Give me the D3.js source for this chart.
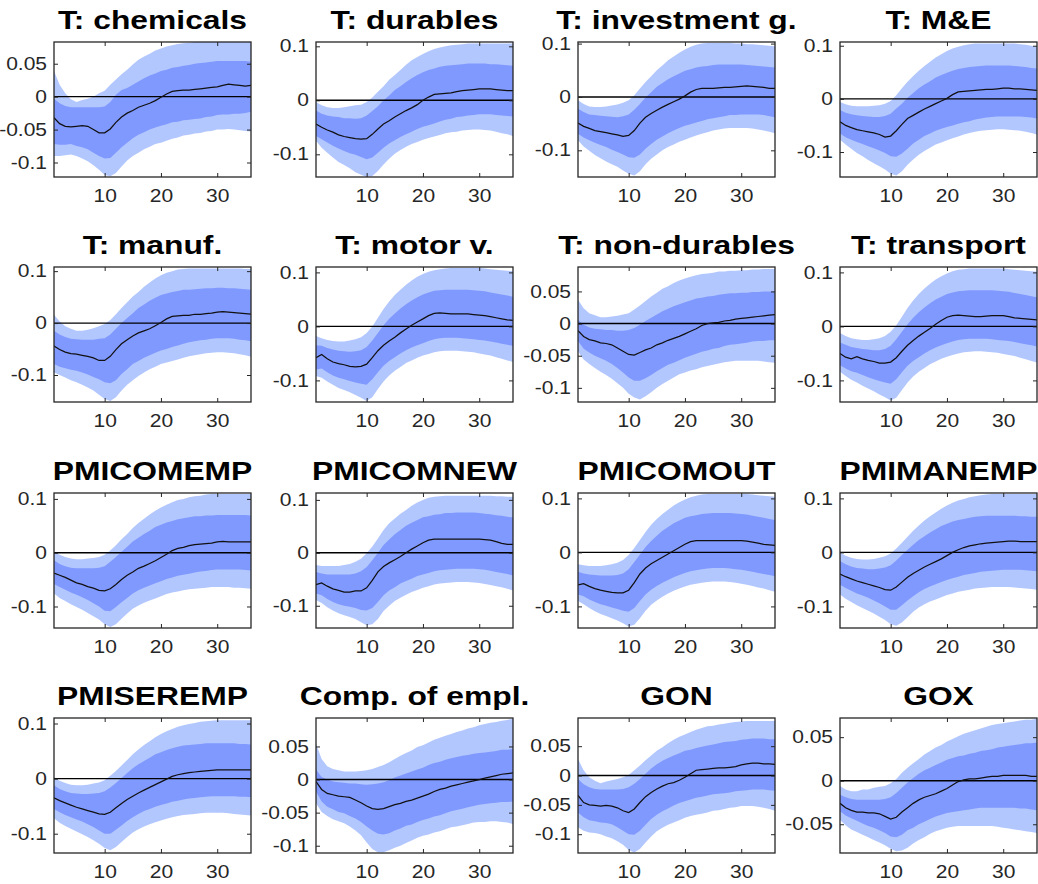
<!DOCTYPE html>
<html>
<head>
<meta charset="utf-8">
<script src="https://cdn.jsdelivr.net/npm/d3@7"></script>
<style>
  body { margin: 0; background: #fff; }
  svg { display: block; }
</style>
</head>
<body>
<svg id="chart" width="1038" height="884"></svg>
<script>
// Impulse responses: median with 68% and 90% credible bands, horizons 1..36
const horizons = [1,2,3,4,5,6,7,8,9,10,11,12,13,14,15,16,17,18,19,20,21,22,23,24,25,26,27,28,29,30,31,32,33,34,35,36];

const titles = ["T: chemicals","T: durables","T: investment g.","T: M&E",
                "T: manuf.","T: motor v.","T: non-durables","T: transport",
                "PMICOMEMP","PMICOMNEW","PMICOMOUT","PMIMANEMP",
                "PMISEREMP","Comp. of empl.","GON","GOX"];

const xTickValues = [10, 20, 30];
const xTickLabels = ["10", "20", "30"];

const ticksFine = [-0.1, -0.05, 0, 0.05];
const ticksFineLabels = ["-0.1", "-0.05", "0", "0.05"];
const ticksCoarse = [-0.1, 0, 0.1];
const ticksCoarseLabels = ["-0.1", "0", "0.1"];
const ticksGox = [-0.05, 0, 0.05];
const ticksGoxLabels = ["-0.05", "0", "0.05"];

const yDomains = [
  [-0.122, 0.083], [-0.142, 0.108], [-0.150, 0.103], [-0.147, 0.107],
  [-0.152, 0.108], [-0.140, 0.110], [-0.122, 0.088], [-0.140, 0.110],
  [-0.140, 0.111], [-0.142, 0.113], [-0.140, 0.110], [-0.140, 0.110],
  [-0.135, 0.110], [-0.111, 0.093], [-0.132, 0.098], [-0.083, 0.072]
];

// T: chemicals
const chem_hi90 = [0.039,0.018,0.005,-0.004,-0.008,-0.005,-0.003,0.000,0.005,0.009,0.018,0.026, 0.034,0.041,0.049,0.056,0.061,0.065,0.070,0.073,0.076,0.078,0.080,0.081, 0.082,0.083,0.083,0.083,0.083,0.083,0.083,0.083,0.083,0.083,0.083,0.083];
const chem_hi68 = [-0.003,-0.010,-0.014,-0.016,-0.016,-0.016,-0.016,-0.016,-0.016,-0.015,-0.008,0.003, 0.010,0.013,0.018,0.023,0.028,0.032,0.035,0.039,0.041,0.044,0.045,0.047, 0.048,0.050,0.051,0.052,0.053,0.054,0.054,0.054,0.054,0.054,0.054,0.053];
const chem_med  = [-0.032,-0.041,-0.045,-0.046,-0.045,-0.044,-0.045,-0.050,-0.055,-0.055,-0.049,-0.039, -0.031,-0.025,-0.021,-0.016,-0.013,-0.010,-0.006,-0.001,0.004,0.008,0.009,0.010, 0.010,0.011,0.012,0.013,0.014,0.015,0.017,0.019,0.018,0.017,0.016,0.017];
const chem_lo68 = [-0.072,-0.073,-0.073,-0.072,-0.075,-0.077,-0.080,-0.085,-0.090,-0.094,-0.093,-0.085, -0.077,-0.070,-0.063,-0.058,-0.054,-0.050,-0.047,-0.044,-0.042,-0.039,-0.038,-0.036, -0.035,-0.034,-0.033,-0.031,-0.030,-0.028,-0.027,-0.027,-0.026,-0.026,-0.025,-0.023];
const chem_lo90 = [-0.090,-0.090,-0.089,-0.088,-0.090,-0.094,-0.098,-0.104,-0.111,-0.119,-0.121,-0.116, -0.106,-0.097,-0.090,-0.085,-0.080,-0.076,-0.072,-0.070,-0.067,-0.064,-0.062,-0.059, -0.058,-0.056,-0.055,-0.053,-0.052,-0.050,-0.050,-0.049,-0.050,-0.051,-0.052,-0.053];

// T: durables
const dur_hi90 = [-0.003,-0.009,-0.013,-0.014,-0.014,-0.013,-0.011,-0.009,-0.008,-0.003,0.005,0.016, 0.026,0.038,0.047,0.056,0.066,0.074,0.080,0.086,0.091,0.095,0.098,0.100, 0.102,0.103,0.104,0.105,0.105,0.105,0.105,0.105,0.105,0.105,0.105,0.105];
const dur_hi68 = [-0.019,-0.025,-0.028,-0.030,-0.031,-0.033,-0.033,-0.034,-0.033,-0.028,-0.020,-0.011, 0.000,0.009,0.019,0.026,0.034,0.041,0.047,0.052,0.056,0.059,0.062,0.064, 0.065,0.066,0.067,0.068,0.068,0.068,0.068,0.067,0.067,0.066,0.065,0.064];
const dur_med  = [-0.044,-0.050,-0.055,-0.059,-0.064,-0.067,-0.069,-0.071,-0.072,-0.071,-0.063,-0.053, -0.044,-0.038,-0.031,-0.025,-0.019,-0.014,-0.008,0.000,0.006,0.011,0.012,0.013, 0.014,0.016,0.018,0.019,0.020,0.021,0.021,0.021,0.020,0.019,0.018,0.018];
const dur_lo68 = [-0.066,-0.072,-0.078,-0.084,-0.089,-0.094,-0.098,-0.101,-0.105,-0.109,-0.106,-0.097, -0.088,-0.080,-0.074,-0.068,-0.063,-0.058,-0.053,-0.049,-0.046,-0.043,-0.039,-0.036, -0.034,-0.031,-0.030,-0.028,-0.027,-0.026,-0.026,-0.026,-0.027,-0.028,-0.029,-0.030];
const dur_lo90 = [-0.075,-0.088,-0.097,-0.106,-0.114,-0.120,-0.126,-0.133,-0.138,-0.142,-0.140,-0.131, -0.119,-0.108,-0.099,-0.092,-0.086,-0.081,-0.077,-0.073,-0.070,-0.067,-0.064,-0.061, -0.059,-0.058,-0.056,-0.055,-0.054,-0.054,-0.055,-0.056,-0.058,-0.061,-0.063,-0.066];

// T: investment g.
const inv_hi90 = [-0.006,-0.013,-0.018,-0.019,-0.019,-0.018,-0.016,-0.014,-0.011,-0.006,0.003,0.016, 0.028,0.039,0.050,0.059,0.069,0.076,0.083,0.089,0.094,0.098,0.100,0.101, 0.101,0.101,0.101,0.101,0.100,0.100,0.099,0.099,0.098,0.097,0.096,0.095];
const inv_hi68 = [-0.022,-0.028,-0.033,-0.034,-0.035,-0.036,-0.037,-0.038,-0.036,-0.033,-0.024,-0.013, -0.001,0.009,0.019,0.026,0.033,0.039,0.044,0.049,0.052,0.055,0.057,0.058, 0.060,0.061,0.061,0.061,0.061,0.061,0.060,0.059,0.058,0.057,0.056,0.055];
const inv_med  = [-0.049,-0.055,-0.059,-0.063,-0.065,-0.067,-0.069,-0.071,-0.074,-0.072,-0.063,-0.049, -0.038,-0.031,-0.025,-0.019,-0.014,-0.009,-0.004,0.002,0.009,0.014,0.016,0.016, 0.016,0.017,0.018,0.018,0.019,0.020,0.021,0.020,0.019,0.018,0.016,0.016];
const inv_lo68 = [-0.069,-0.076,-0.081,-0.086,-0.090,-0.094,-0.099,-0.103,-0.108,-0.113,-0.114,-0.108, -0.097,-0.088,-0.080,-0.074,-0.068,-0.063,-0.058,-0.054,-0.051,-0.048,-0.045,-0.042, -0.040,-0.038,-0.036,-0.034,-0.034,-0.033,-0.033,-0.033,-0.033,-0.034,-0.036,-0.038];
const inv_lo90 = [-0.081,-0.093,-0.101,-0.109,-0.115,-0.121,-0.126,-0.131,-0.138,-0.144,-0.147,-0.139, -0.126,-0.116,-0.108,-0.100,-0.094,-0.089,-0.084,-0.080,-0.076,-0.072,-0.069,-0.066, -0.063,-0.061,-0.059,-0.058,-0.058,-0.058,-0.058,-0.059,-0.061,-0.063,-0.065,-0.068];

// T: M&E
const me_hi90 = [-0.006,-0.010,-0.013,-0.014,-0.014,-0.014,-0.013,-0.012,-0.009,-0.004,0.007,0.020, 0.032,0.043,0.053,0.062,0.070,0.078,0.084,0.090,0.095,0.098,0.101,0.103, 0.104,0.104,0.104,0.104,0.104,0.104,0.104,0.104,0.103,0.102,0.100,0.098];
const me_hi68 = [-0.021,-0.026,-0.029,-0.031,-0.032,-0.033,-0.034,-0.034,-0.032,-0.028,-0.018,-0.009, 0.002,0.011,0.020,0.027,0.033,0.040,0.045,0.049,0.053,0.056,0.058,0.060, 0.061,0.062,0.063,0.063,0.063,0.063,0.063,0.062,0.061,0.060,0.058,0.057];
const me_med  = [-0.043,-0.050,-0.054,-0.058,-0.060,-0.062,-0.064,-0.067,-0.072,-0.070,-0.060,-0.048, -0.037,-0.031,-0.025,-0.019,-0.014,-0.009,-0.004,0.001,0.008,0.013,0.014,0.015, 0.016,0.017,0.018,0.018,0.019,0.020,0.020,0.019,0.019,0.018,0.017,0.016];
const me_lo68 = [-0.065,-0.072,-0.077,-0.081,-0.085,-0.089,-0.093,-0.097,-0.102,-0.108,-0.109,-0.103, -0.094,-0.084,-0.077,-0.070,-0.065,-0.060,-0.056,-0.053,-0.050,-0.047,-0.044,-0.042, -0.039,-0.037,-0.035,-0.034,-0.033,-0.033,-0.033,-0.033,-0.033,-0.034,-0.035,-0.037];
const me_lo90 = [-0.077,-0.086,-0.094,-0.102,-0.108,-0.115,-0.121,-0.127,-0.133,-0.141,-0.144,-0.136, -0.124,-0.114,-0.105,-0.098,-0.092,-0.086,-0.082,-0.078,-0.074,-0.071,-0.067,-0.064, -0.062,-0.060,-0.059,-0.058,-0.057,-0.057,-0.058,-0.059,-0.060,-0.062,-0.064,-0.067];

// T: manuf.
const man_hi90 = [0.016,0.003,-0.006,-0.011,-0.015,-0.015,-0.013,-0.010,-0.006,-0.002,0.006,0.017, 0.029,0.040,0.051,0.060,0.070,0.078,0.086,0.092,0.097,0.100,0.103,0.104, 0.105,0.105,0.105,0.105,0.105,0.105,0.105,0.105,0.105,0.105,0.104,0.104];
const man_hi68 = [-0.015,-0.022,-0.027,-0.030,-0.031,-0.032,-0.032,-0.032,-0.030,-0.029,-0.022,-0.011, 0.000,0.010,0.019,0.029,0.036,0.043,0.049,0.054,0.057,0.060,0.062,0.064, 0.064,0.065,0.066,0.067,0.067,0.068,0.068,0.067,0.067,0.066,0.065,0.064];
const man_med  = [-0.044,-0.051,-0.056,-0.059,-0.060,-0.062,-0.064,-0.067,-0.072,-0.072,-0.064,-0.051, -0.040,-0.032,-0.025,-0.019,-0.015,-0.011,-0.005,0.001,0.008,0.013,0.014,0.015, 0.015,0.017,0.017,0.018,0.019,0.021,0.022,0.021,0.020,0.019,0.018,0.017];
const man_lo68 = [-0.079,-0.084,-0.087,-0.090,-0.092,-0.095,-0.099,-0.104,-0.108,-0.114,-0.116,-0.110, -0.098,-0.089,-0.079,-0.073,-0.067,-0.062,-0.057,-0.053,-0.050,-0.046,-0.043,-0.040, -0.037,-0.035,-0.033,-0.032,-0.030,-0.029,-0.029,-0.029,-0.030,-0.032,-0.033,-0.035];
const man_lo90 = [-0.095,-0.100,-0.105,-0.110,-0.114,-0.119,-0.124,-0.130,-0.138,-0.146,-0.150,-0.143, -0.130,-0.119,-0.110,-0.102,-0.095,-0.089,-0.084,-0.079,-0.076,-0.073,-0.070,-0.067, -0.064,-0.062,-0.060,-0.058,-0.057,-0.056,-0.056,-0.057,-0.058,-0.060,-0.062,-0.065];

// T: motor v.
const mot_hi90 = [-0.018,-0.022,-0.025,-0.027,-0.028,-0.028,-0.026,-0.024,-0.020,-0.012,0.000,0.016, 0.032,0.046,0.058,0.068,0.077,0.085,0.092,0.097,0.101,0.104,0.106,0.107, 0.108,0.108,0.108,0.108,0.108,0.108,0.107,0.106,0.105,0.104,0.103,0.102];
const mot_hi68 = [-0.035,-0.036,-0.040,-0.043,-0.045,-0.046,-0.047,-0.046,-0.044,-0.038,-0.026,-0.012, 0.002,0.014,0.024,0.033,0.041,0.048,0.054,0.059,0.063,0.066,0.067,0.068, 0.068,0.068,0.068,0.068,0.067,0.066,0.065,0.063,0.061,0.059,0.057,0.055];
const mot_med  = [-0.058,-0.052,-0.060,-0.066,-0.069,-0.071,-0.074,-0.075,-0.074,-0.070,-0.058,-0.045, -0.035,-0.027,-0.020,-0.012,-0.005,0.002,0.008,0.014,0.020,0.024,0.025,0.024, 0.023,0.023,0.023,0.023,0.022,0.021,0.020,0.018,0.016,0.014,0.012,0.011];
const mot_lo68 = [-0.080,-0.078,-0.085,-0.091,-0.095,-0.098,-0.101,-0.104,-0.106,-0.108,-0.098,-0.085, -0.073,-0.064,-0.057,-0.050,-0.044,-0.039,-0.035,-0.031,-0.027,-0.024,-0.022,-0.021, -0.021,-0.021,-0.022,-0.023,-0.024,-0.025,-0.026,-0.028,-0.030,-0.032,-0.034,-0.036];
const mot_lo90 = [-0.092,-0.095,-0.102,-0.108,-0.114,-0.118,-0.122,-0.127,-0.132,-0.138,-0.131,-0.116, -0.102,-0.091,-0.082,-0.075,-0.068,-0.063,-0.058,-0.054,-0.051,-0.048,-0.046,-0.045, -0.045,-0.045,-0.046,-0.047,-0.048,-0.050,-0.052,-0.054,-0.057,-0.060,-0.063,-0.066];

// T: non-durables
const nd_hi90 = [0.037,0.024,0.016,0.013,0.010,0.010,0.011,0.012,0.014,0.016,0.022,0.028, 0.035,0.042,0.048,0.054,0.058,0.063,0.067,0.070,0.073,0.075,0.077,0.078, 0.079,0.081,0.081,0.082,0.082,0.083,0.083,0.084,0.084,0.085,0.085,0.085];
const nd_hi68 = [0.006,-0.002,-0.006,-0.008,-0.009,-0.010,-0.010,-0.011,-0.011,-0.010,-0.007,-0.002, 0.004,0.009,0.014,0.019,0.023,0.027,0.030,0.033,0.036,0.039,0.040,0.042, 0.043,0.045,0.046,0.047,0.047,0.048,0.048,0.049,0.049,0.050,0.050,0.050];
const nd_med  = [-0.011,-0.020,-0.025,-0.027,-0.030,-0.031,-0.033,-0.038,-0.043,-0.048,-0.049,-0.045, -0.041,-0.038,-0.033,-0.030,-0.026,-0.023,-0.020,-0.016,-0.012,-0.008,-0.003,0.000, 0.001,0.002,0.004,0.005,0.007,0.008,0.009,0.010,0.011,0.012,0.013,0.014];
const nd_lo68 = [-0.027,-0.039,-0.045,-0.050,-0.054,-0.058,-0.063,-0.069,-0.076,-0.084,-0.089,-0.089, -0.085,-0.080,-0.074,-0.069,-0.064,-0.061,-0.057,-0.053,-0.050,-0.047,-0.044,-0.042, -0.039,-0.038,-0.035,-0.033,-0.032,-0.031,-0.030,-0.028,-0.027,-0.027,-0.026,-0.026];
const nd_lo90 = [-0.043,-0.056,-0.063,-0.069,-0.075,-0.080,-0.086,-0.093,-0.100,-0.109,-0.115,-0.118, -0.113,-0.107,-0.100,-0.094,-0.089,-0.084,-0.079,-0.076,-0.073,-0.071,-0.068,-0.066, -0.064,-0.062,-0.060,-0.059,-0.058,-0.058,-0.058,-0.058,-0.058,-0.059,-0.060,-0.061];

// T: transport
const tr_hi90 = [-0.012,-0.018,-0.022,-0.024,-0.025,-0.025,-0.024,-0.022,-0.018,-0.010,0.002,0.018, 0.034,0.048,0.060,0.070,0.079,0.087,0.093,0.098,0.102,0.105,0.106,0.107, 0.107,0.107,0.107,0.107,0.107,0.107,0.106,0.105,0.104,0.103,0.102,0.101];
const tr_hi68 = [-0.030,-0.034,-0.038,-0.040,-0.042,-0.043,-0.044,-0.044,-0.042,-0.036,-0.024,-0.010, 0.004,0.016,0.026,0.035,0.043,0.050,0.055,0.060,0.063,0.065,0.066,0.067, 0.067,0.067,0.067,0.067,0.066,0.065,0.064,0.062,0.060,0.058,0.056,0.054];
const tr_med  = [-0.050,-0.057,-0.060,-0.056,-0.060,-0.063,-0.065,-0.068,-0.068,-0.066,-0.058,-0.046, -0.035,-0.026,-0.018,-0.011,-0.004,0.004,0.011,0.017,0.020,0.021,0.020,0.019, 0.018,0.018,0.019,0.020,0.020,0.020,0.018,0.016,0.015,0.014,0.013,0.012];
const tr_lo68 = [-0.072,-0.078,-0.083,-0.086,-0.090,-0.094,-0.098,-0.101,-0.104,-0.106,-0.098,-0.085, -0.073,-0.064,-0.057,-0.050,-0.044,-0.039,-0.035,-0.031,-0.028,-0.025,-0.024,-0.023, -0.023,-0.023,-0.023,-0.024,-0.025,-0.026,-0.027,-0.029,-0.031,-0.033,-0.035,-0.037];
const tr_lo90 = [-0.084,-0.092,-0.099,-0.104,-0.110,-0.115,-0.120,-0.126,-0.131,-0.137,-0.132,-0.118, -0.104,-0.093,-0.084,-0.077,-0.070,-0.065,-0.060,-0.056,-0.053,-0.050,-0.048,-0.047, -0.046,-0.046,-0.047,-0.048,-0.049,-0.051,-0.053,-0.055,-0.058,-0.061,-0.064,-0.067];

// PMICOMEMP
const pce_hi90 = [0.002,-0.004,-0.008,-0.011,-0.012,-0.012,-0.011,-0.010,-0.008,-0.004,0.004,0.014, 0.025,0.035,0.046,0.055,0.063,0.071,0.078,0.084,0.089,0.094,0.098,0.100, 0.103,0.105,0.106,0.108,0.109,0.109,0.109,0.109,0.109,0.109,0.109,0.109];
const pce_hi68 = [-0.014,-0.021,-0.025,-0.028,-0.029,-0.029,-0.029,-0.029,-0.028,-0.025,-0.017,-0.008, 0.002,0.011,0.021,0.028,0.035,0.041,0.048,0.052,0.056,0.059,0.062,0.064, 0.066,0.068,0.068,0.069,0.069,0.070,0.070,0.070,0.070,0.070,0.070,0.069];
const pce_med  = [-0.038,-0.042,-0.046,-0.051,-0.056,-0.059,-0.063,-0.066,-0.070,-0.071,-0.067,-0.059, -0.050,-0.042,-0.036,-0.029,-0.025,-0.020,-0.015,-0.009,-0.003,0.004,0.008,0.010, 0.013,0.015,0.016,0.017,0.018,0.020,0.021,0.020,0.020,0.020,0.020,0.020];
const pce_lo68 = [-0.058,-0.064,-0.069,-0.074,-0.078,-0.083,-0.088,-0.094,-0.100,-0.108,-0.109,-0.101, -0.092,-0.084,-0.076,-0.070,-0.065,-0.061,-0.057,-0.053,-0.049,-0.046,-0.043,-0.041, -0.039,-0.037,-0.035,-0.034,-0.032,-0.031,-0.031,-0.031,-0.031,-0.031,-0.032,-0.033];
const pce_lo90 = [-0.076,-0.084,-0.090,-0.096,-0.101,-0.106,-0.112,-0.118,-0.124,-0.133,-0.138,-0.133, -0.123,-0.113,-0.104,-0.098,-0.093,-0.089,-0.085,-0.081,-0.077,-0.074,-0.072,-0.070, -0.068,-0.067,-0.066,-0.065,-0.064,-0.064,-0.064,-0.064,-0.065,-0.065,-0.066,-0.067];

// PMICOMNEW
const pcn_hi90 = [-0.023,-0.025,-0.025,-0.025,-0.025,-0.023,-0.021,-0.017,-0.011,-0.001,0.012,0.027, 0.043,0.056,0.065,0.074,0.081,0.089,0.095,0.100,0.104,0.106,0.107,0.108, 0.108,0.108,0.108,0.108,0.108,0.108,0.108,0.108,0.107,0.107,0.106,0.106];
const pcn_hi68 = [-0.036,-0.039,-0.041,-0.041,-0.041,-0.041,-0.041,-0.039,-0.035,-0.027,-0.014,0.000, 0.015,0.025,0.035,0.043,0.051,0.057,0.062,0.067,0.069,0.072,0.073,0.075, 0.075,0.076,0.076,0.076,0.076,0.075,0.074,0.073,0.071,0.070,0.068,0.067];
const pcn_med  = [-0.060,-0.057,-0.063,-0.068,-0.071,-0.074,-0.074,-0.072,-0.072,-0.066,-0.052,-0.036, -0.026,-0.019,-0.013,-0.007,0.000,0.007,0.013,0.019,0.024,0.026,0.026,0.026, 0.026,0.026,0.026,0.026,0.026,0.026,0.025,0.024,0.021,0.018,0.016,0.016];
const pcn_lo68 = [-0.077,-0.080,-0.087,-0.093,-0.097,-0.100,-0.102,-0.104,-0.108,-0.109,-0.104,-0.093, -0.080,-0.071,-0.065,-0.058,-0.053,-0.049,-0.044,-0.041,-0.038,-0.035,-0.033,-0.032, -0.031,-0.030,-0.030,-0.030,-0.030,-0.031,-0.032,-0.034,-0.036,-0.038,-0.040,-0.043];
const pcn_lo90 = [-0.089,-0.095,-0.103,-0.109,-0.114,-0.118,-0.121,-0.125,-0.131,-0.137,-0.135,-0.125, -0.110,-0.100,-0.091,-0.085,-0.079,-0.074,-0.070,-0.066,-0.063,-0.060,-0.058,-0.057, -0.056,-0.055,-0.055,-0.055,-0.056,-0.057,-0.059,-0.061,-0.063,-0.065,-0.068,-0.071];

// PMICOMOUT
const pco_hi90 = [-0.022,-0.024,-0.025,-0.025,-0.025,-0.024,-0.022,-0.019,-0.014,-0.005,0.008,0.023, 0.038,0.051,0.062,0.071,0.079,0.087,0.093,0.098,0.102,0.105,0.107,0.108, 0.108,0.108,0.108,0.108,0.108,0.108,0.108,0.107,0.106,0.105,0.104,0.103];
const pco_hi68 = [-0.036,-0.039,-0.041,-0.042,-0.043,-0.043,-0.043,-0.042,-0.039,-0.031,-0.018,-0.004, 0.010,0.021,0.031,0.040,0.047,0.054,0.059,0.064,0.067,0.069,0.071,0.072, 0.073,0.073,0.073,0.073,0.072,0.071,0.070,0.068,0.066,0.064,0.062,0.060];
const pco_med  = [-0.060,-0.058,-0.063,-0.067,-0.070,-0.072,-0.074,-0.075,-0.075,-0.070,-0.056,-0.040, -0.029,-0.021,-0.015,-0.009,-0.003,0.003,0.009,0.015,0.020,0.022,0.022,0.022, 0.022,0.022,0.022,0.022,0.022,0.022,0.021,0.019,0.017,0.015,0.014,0.013];
const pco_lo68 = [-0.078,-0.081,-0.087,-0.092,-0.096,-0.099,-0.102,-0.105,-0.108,-0.110,-0.103,-0.090, -0.078,-0.069,-0.062,-0.056,-0.051,-0.046,-0.042,-0.038,-0.035,-0.033,-0.031,-0.030, -0.029,-0.029,-0.029,-0.030,-0.031,-0.032,-0.034,-0.036,-0.038,-0.040,-0.042,-0.044];
const pco_lo90 = [-0.090,-0.096,-0.103,-0.109,-0.114,-0.118,-0.122,-0.126,-0.131,-0.137,-0.134,-0.122, -0.108,-0.097,-0.089,-0.082,-0.076,-0.071,-0.067,-0.063,-0.060,-0.058,-0.056,-0.055, -0.054,-0.054,-0.054,-0.055,-0.056,-0.058,-0.060,-0.062,-0.065,-0.067,-0.070,-0.073];

// PMIMANEMP
const pme_hi90 = [0.000,-0.006,-0.010,-0.012,-0.013,-0.013,-0.012,-0.010,-0.007,-0.002,0.007,0.018, 0.029,0.040,0.050,0.059,0.067,0.074,0.081,0.087,0.092,0.096,0.099,0.102, 0.104,0.106,0.107,0.108,0.108,0.108,0.108,0.108,0.108,0.108,0.108,0.108];
const pme_hi68 = [-0.016,-0.022,-0.026,-0.029,-0.030,-0.031,-0.031,-0.030,-0.028,-0.024,-0.015,-0.005, 0.005,0.014,0.023,0.030,0.037,0.043,0.049,0.053,0.057,0.060,0.062,0.064, 0.066,0.067,0.068,0.068,0.068,0.068,0.068,0.068,0.067,0.067,0.066,0.066];
const pme_med  = [-0.040,-0.045,-0.049,-0.053,-0.056,-0.059,-0.062,-0.065,-0.069,-0.070,-0.064,-0.055, -0.046,-0.039,-0.033,-0.027,-0.022,-0.017,-0.012,-0.006,0.000,0.005,0.009,0.012, 0.014,0.016,0.017,0.018,0.019,0.020,0.021,0.021,0.020,0.020,0.020,0.020];
const pme_lo68 = [-0.060,-0.066,-0.071,-0.076,-0.080,-0.084,-0.089,-0.094,-0.100,-0.106,-0.106,-0.098, -0.089,-0.081,-0.074,-0.068,-0.063,-0.059,-0.055,-0.051,-0.048,-0.045,-0.042,-0.040, -0.038,-0.036,-0.035,-0.034,-0.033,-0.032,-0.032,-0.032,-0.032,-0.033,-0.034,-0.035];
const pme_lo90 = [-0.078,-0.086,-0.092,-0.098,-0.103,-0.108,-0.113,-0.119,-0.125,-0.133,-0.136,-0.130, -0.120,-0.110,-0.102,-0.096,-0.091,-0.087,-0.083,-0.079,-0.076,-0.073,-0.071,-0.069, -0.067,-0.066,-0.065,-0.064,-0.064,-0.064,-0.064,-0.065,-0.066,-0.067,-0.068,-0.069];

// PMISEREMP
const pse_hi90 = [0.003,-0.004,-0.008,-0.011,-0.012,-0.012,-0.011,-0.009,-0.007,-0.003,0.005,0.014, 0.024,0.034,0.044,0.053,0.061,0.068,0.075,0.081,0.086,0.090,0.094,0.097, 0.099,0.101,0.103,0.104,0.105,0.106,0.106,0.106,0.106,0.106,0.106,0.106];
const pse_hi68 = [-0.012,-0.019,-0.023,-0.026,-0.027,-0.028,-0.028,-0.027,-0.026,-0.023,-0.016,-0.008, 0.001,0.010,0.019,0.026,0.032,0.038,0.044,0.048,0.052,0.055,0.058,0.060, 0.061,0.062,0.063,0.064,0.064,0.064,0.064,0.064,0.064,0.063,0.063,0.062];
const pse_med  = [-0.035,-0.040,-0.044,-0.048,-0.052,-0.055,-0.058,-0.061,-0.064,-0.065,-0.061,-0.053, -0.045,-0.038,-0.032,-0.026,-0.021,-0.016,-0.011,-0.006,-0.001,0.004,0.007,0.009, 0.011,0.012,0.013,0.014,0.015,0.016,0.016,0.016,0.016,0.016,0.016,0.016];
const pse_lo68 = [-0.055,-0.061,-0.066,-0.070,-0.074,-0.078,-0.083,-0.088,-0.094,-0.100,-0.100,-0.093, -0.085,-0.077,-0.070,-0.064,-0.059,-0.055,-0.051,-0.048,-0.045,-0.042,-0.040,-0.038, -0.036,-0.035,-0.034,-0.033,-0.032,-0.032,-0.032,-0.032,-0.032,-0.033,-0.033,-0.034];
const pse_lo90 = [-0.072,-0.080,-0.086,-0.091,-0.096,-0.101,-0.106,-0.112,-0.118,-0.126,-0.130,-0.124, -0.115,-0.106,-0.098,-0.092,-0.087,-0.083,-0.079,-0.076,-0.073,-0.070,-0.068,-0.066, -0.065,-0.064,-0.063,-0.062,-0.062,-0.062,-0.062,-0.063,-0.064,-0.065,-0.066,-0.067];

// Comp. of empl.
const ce_hi90 = [0.054,0.031,0.020,0.016,0.014,0.012,0.012,0.012,0.013,0.014,0.016,0.019, 0.022,0.026,0.031,0.036,0.040,0.044,0.049,0.052,0.056,0.060,0.063,0.066, 0.069,0.072,0.074,0.077,0.079,0.082,0.084,0.086,0.087,0.089,0.090,0.092];
const ce_hi68 = [0.015,0.004,0.000,-0.003,-0.004,-0.005,-0.006,-0.006,-0.007,-0.008,-0.007,-0.006, -0.004,-0.001,0.003,0.006,0.009,0.012,0.015,0.018,0.022,0.025,0.027,0.030, 0.032,0.034,0.036,0.037,0.039,0.040,0.041,0.042,0.043,0.045,0.045,0.046];
const ce_med  = [-0.003,-0.015,-0.021,-0.023,-0.025,-0.026,-0.027,-0.031,-0.035,-0.040,-0.044,-0.045, -0.044,-0.041,-0.038,-0.036,-0.033,-0.031,-0.028,-0.025,-0.022,-0.018,-0.015,-0.013, -0.010,-0.008,-0.006,-0.004,-0.002,0.000,0.002,0.004,0.006,0.008,0.009,0.010];
const ce_lo68 = [-0.018,-0.033,-0.041,-0.045,-0.049,-0.051,-0.055,-0.059,-0.064,-0.071,-0.077,-0.082, -0.083,-0.081,-0.077,-0.074,-0.070,-0.068,-0.064,-0.061,-0.059,-0.056,-0.054,-0.051, -0.048,-0.046,-0.044,-0.042,-0.040,-0.038,-0.037,-0.036,-0.035,-0.034,-0.034,-0.033];
const ce_lo90 = [-0.036,-0.049,-0.055,-0.060,-0.063,-0.066,-0.071,-0.077,-0.084,-0.095,-0.105,-0.110, -0.110,-0.107,-0.103,-0.100,-0.096,-0.092,-0.088,-0.085,-0.083,-0.080,-0.078,-0.075, -0.072,-0.071,-0.069,-0.067,-0.065,-0.064,-0.064,-0.063,-0.063,-0.064,-0.065,-0.067];

// GON
const gon_hi90 = [0.028,0.009,-0.003,-0.009,-0.013,-0.010,-0.008,-0.006,-0.003,0.001,0.009,0.017, 0.026,0.034,0.042,0.048,0.055,0.061,0.066,0.070,0.074,0.078,0.081,0.084, 0.085,0.087,0.088,0.090,0.091,0.092,0.093,0.093,0.093,0.093,0.093,0.093];
const gon_hi68 = [-0.006,-0.015,-0.020,-0.023,-0.024,-0.024,-0.024,-0.024,-0.023,-0.020,-0.014,-0.006, 0.003,0.012,0.019,0.025,0.030,0.034,0.038,0.042,0.044,0.047,0.049,0.051, 0.053,0.055,0.057,0.058,0.059,0.061,0.062,0.063,0.063,0.063,0.062,0.062];
const gon_med  = [-0.034,-0.046,-0.050,-0.051,-0.052,-0.051,-0.052,-0.055,-0.060,-0.063,-0.057,-0.046, -0.036,-0.029,-0.023,-0.018,-0.014,-0.012,-0.008,-0.003,0.003,0.009,0.010,0.011, 0.012,0.013,0.013,0.014,0.015,0.018,0.020,0.021,0.021,0.020,0.020,0.019];
const gon_lo68 = [-0.063,-0.071,-0.076,-0.078,-0.080,-0.081,-0.083,-0.088,-0.094,-0.100,-0.101,-0.094, -0.084,-0.074,-0.067,-0.061,-0.056,-0.051,-0.047,-0.044,-0.041,-0.038,-0.036,-0.034, -0.032,-0.031,-0.030,-0.029,-0.027,-0.026,-0.025,-0.024,-0.024,-0.024,-0.025,-0.026];
const gon_lo90 = [-0.088,-0.094,-0.097,-0.098,-0.100,-0.104,-0.107,-0.112,-0.118,-0.127,-0.131,-0.125, -0.114,-0.104,-0.095,-0.089,-0.084,-0.080,-0.076,-0.072,-0.069,-0.067,-0.065,-0.063, -0.060,-0.059,-0.057,-0.055,-0.054,-0.052,-0.052,-0.052,-0.053,-0.055,-0.057,-0.060];

// GOX
const gox_hi90 = [-0.006,-0.010,-0.012,-0.012,-0.010,-0.010,-0.008,-0.007,-0.006,-0.003,0.002,0.009, 0.015,0.020,0.025,0.030,0.034,0.038,0.041,0.045,0.048,0.051,0.054,0.056, 0.058,0.060,0.062,0.064,0.065,0.066,0.067,0.068,0.069,0.070,0.070,0.071];
const gox_hi68 = [-0.016,-0.019,-0.021,-0.022,-0.022,-0.022,-0.022,-0.022,-0.021,-0.019,-0.014,-0.008, -0.002,0.003,0.008,0.012,0.015,0.018,0.021,0.024,0.026,0.028,0.029,0.031, 0.032,0.034,0.035,0.036,0.038,0.039,0.040,0.041,0.042,0.043,0.043,0.044];
const gox_med  = [-0.026,-0.031,-0.034,-0.036,-0.036,-0.037,-0.037,-0.038,-0.041,-0.044,-0.042,-0.036, -0.031,-0.026,-0.022,-0.019,-0.017,-0.015,-0.012,-0.009,-0.005,-0.001,0.001,0.002, 0.002,0.003,0.004,0.005,0.005,0.006,0.006,0.006,0.006,0.006,0.005,0.005];
const gox_lo68 = [-0.035,-0.040,-0.043,-0.046,-0.049,-0.052,-0.054,-0.057,-0.060,-0.064,-0.065,-0.062, -0.057,-0.054,-0.050,-0.047,-0.044,-0.041,-0.039,-0.037,-0.036,-0.035,-0.034,-0.033, -0.032,-0.031,-0.031,-0.031,-0.031,-0.031,-0.031,-0.031,-0.032,-0.032,-0.033,-0.034];
const gox_lo90 = [-0.045,-0.051,-0.056,-0.059,-0.062,-0.065,-0.068,-0.071,-0.074,-0.078,-0.081,-0.080, -0.077,-0.072,-0.068,-0.065,-0.061,-0.058,-0.056,-0.054,-0.053,-0.052,-0.052,-0.052, -0.052,-0.052,-0.052,-0.052,-0.053,-0.054,-0.055,-0.056,-0.057,-0.058,-0.059,-0.060];

const panels = [
  {med: chem_med, lo68: chem_lo68, hi68: chem_hi68, lo90: chem_lo90, hi90: chem_hi90, ticks: ticksFine, labels: ticksFineLabels},
  {med: dur_med,  lo68: dur_lo68,  hi68: dur_hi68,  lo90: dur_lo90,  hi90: dur_hi90,  ticks: ticksCoarse, labels: ticksCoarseLabels},
  {med: inv_med,  lo68: inv_lo68,  hi68: inv_hi68,  lo90: inv_lo90,  hi90: inv_hi90,  ticks: ticksCoarse, labels: ticksCoarseLabels},
  {med: me_med,   lo68: me_lo68,   hi68: me_hi68,   lo90: me_lo90,   hi90: me_hi90,   ticks: ticksCoarse, labels: ticksCoarseLabels},
  {med: man_med,  lo68: man_lo68,  hi68: man_hi68,  lo90: man_lo90,  hi90: man_hi90,  ticks: ticksCoarse, labels: ticksCoarseLabels},
  {med: mot_med,  lo68: mot_lo68,  hi68: mot_hi68,  lo90: mot_lo90,  hi90: mot_hi90,  ticks: ticksCoarse, labels: ticksCoarseLabels},
  {med: nd_med,   lo68: nd_lo68,   hi68: nd_hi68,   lo90: nd_lo90,   hi90: nd_hi90,   ticks: ticksFine, labels: ticksFineLabels},
  {med: tr_med,   lo68: tr_lo68,   hi68: tr_hi68,   lo90: tr_lo90,   hi90: tr_hi90,   ticks: ticksCoarse, labels: ticksCoarseLabels},
  {med: pce_med,  lo68: pce_lo68,  hi68: pce_hi68,  lo90: pce_lo90,  hi90: pce_hi90,  ticks: ticksCoarse, labels: ticksCoarseLabels},
  {med: pcn_med,  lo68: pcn_lo68,  hi68: pcn_hi68,  lo90: pcn_lo90,  hi90: pcn_hi90,  ticks: ticksCoarse, labels: ticksCoarseLabels},
  {med: pco_med,  lo68: pco_lo68,  hi68: pco_hi68,  lo90: pco_lo90,  hi90: pco_hi90,  ticks: ticksCoarse, labels: ticksCoarseLabels},
  {med: pme_med,  lo68: pme_lo68,  hi68: pme_hi68,  lo90: pme_lo90,  hi90: pme_hi90,  ticks: ticksCoarse, labels: ticksCoarseLabels},
  {med: pse_med,  lo68: pse_lo68,  hi68: pse_hi68,  lo90: pse_lo90,  hi90: pse_hi90,  ticks: ticksCoarse, labels: ticksCoarseLabels},
  {med: ce_med,   lo68: ce_lo68,   hi68: ce_hi68,   lo90: ce_lo90,   hi90: ce_hi90,   ticks: ticksFine, labels: ticksFineLabels},
  {med: gon_med,  lo68: gon_lo68,  hi68: gon_hi68,  lo90: gon_lo90,  hi90: gon_hi90,  ticks: ticksFine, labels: ticksFineLabels},
  {med: gox_med,  lo68: gox_lo68,  hi68: gox_hi68,  lo90: gox_lo90,  hi90: gox_hi90,  ticks: ticksGox, labels: ticksGoxLabels}
];

// ---- layout and style ----
const colLeft = [54, 316, 578, 840];
const rowTop = [42, 267, 493, 718];
const W = 197, H = 135;
const outerFill = "rgb(179,199,255)";
const innerFill = "rgb(128,153,255)";
const axisColor = "#262626";
const fontFamily = "'Liberation Sans', Arial, Helvetica, sans-serif";
const textStretch = 1.2;

const svg = d3.select("#chart");
const defs = svg.append("defs");

panels.forEach((p, i) => {
  const r = Math.floor(i / 4), c = i % 4;
  const g = svg.append("g").attr("transform", `translate(${colLeft[c]},${rowTop[r]})`);

  const x = d3.scaleLinear().domain([1, 36]).range([0, W]);
  const y = d3.scaleLinear().domain(yDomains[i]).range([H, 0]);

  defs.append("clipPath").attr("id", "clip" + i)
    .append("rect").attr("width", W).attr("height", H);

  const plot = g.append("g").attr("clip-path", `url(#clip${i})`);

  const band = (lo, hi) => d3.area()
    .x((d, k) => x(horizons[k]))
    .y0((d, k) => y(lo[k]))
    .y1((d, k) => y(hi[k]));

  plot.append("path").datum(horizons).attr("d", band(p.lo90, p.hi90)).attr("fill", outerFill);
  plot.append("path").datum(horizons).attr("d", band(p.lo68, p.hi68)).attr("fill", innerFill);

  plot.append("line")
    .attr("x1", 0).attr("x2", W).attr("y1", y(0)).attr("y2", y(0))
    .attr("stroke", "#000").attr("stroke-width", 1.4);

  plot.append("path").datum(p.med)
    .attr("d", d3.line().x((d, k) => x(horizons[k])).y(d => y(d)))
    .attr("fill", "none").attr("stroke", "#111").attr("stroke-width", 1.25);

  // axes: ticks point inward on all four sides, labels on left and bottom
  const fmtY = v => p.labels[p.ticks.indexOf(v)];
  const fmtX = v => xTickLabels[xTickValues.indexOf(v)];

  const left = g.append("g")
    .call(d3.axisLeft(y).tickValues(p.ticks).tickFormat(fmtY).tickSize(-4).tickPadding(7));
  const bottom = g.append("g").attr("transform", `translate(0,${H})`)
    .call(d3.axisBottom(x).tickValues(xTickValues).tickFormat(fmtX).tickSize(-4).tickPadding(13));
  const top = g.append("g")
    .call(d3.axisTop(x).tickValues(xTickValues).tickFormat("").tickSize(-4));
  const right = g.append("g").attr("transform", `translate(${W},0)`)
    .call(d3.axisRight(y).tickValues(p.ticks).tickFormat("").tickSize(-4));

  [left, bottom, top, right].forEach(a => {
    a.select(".domain").remove();
    a.selectAll(".tick line").attr("stroke", axisColor);
    a.selectAll(".tick text")
      .attr("fill", axisColor)
      .style("font-family", fontFamily)
      .style("font-size", "17.5px");
  });

  left.selectAll(".tick text")
    .attr("x", null)
    .attr("transform", `translate(-7,0) scale(${textStretch},1)`);
  bottom.selectAll(".tick text")
    .attr("transform", `scale(${textStretch},1)`);

  g.append("rect")
    .attr("width", W).attr("height", H)
    .attr("fill", "none").attr("stroke", axisColor).attr("stroke-width", 1.3);

  g.append("text")
    .attr("transform", `translate(${W / 2},-13) scale(${textStretch},1)`)
    .attr("text-anchor", "middle")
    .style("font-family", fontFamily)
    .style("font-size", "26.5px")
    .style("font-weight", "bold")
    .attr("fill", "#000")
    .text(titles[i]);
});
</script>
</body>
</html>
